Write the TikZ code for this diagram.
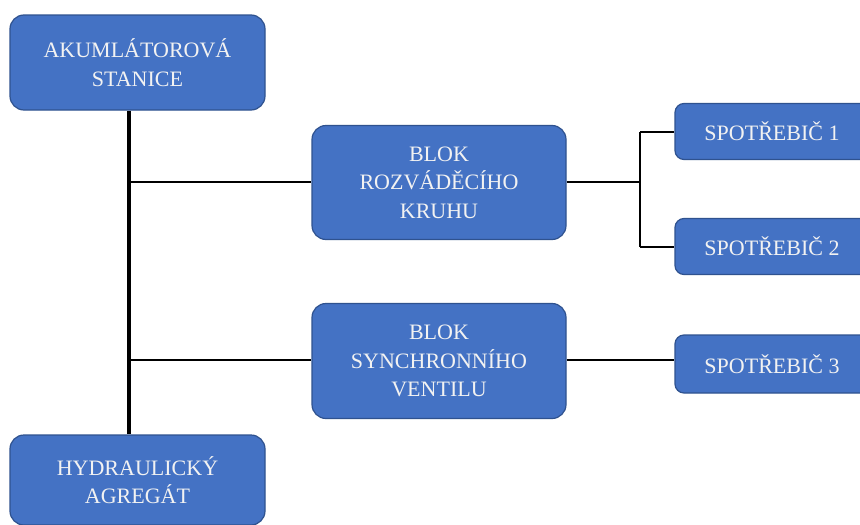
\documentclass[tikz,border=0pt]{standalone}
\usepackage{fontspec}
\setmainfont{Liberation Serif}
\definecolor{boxfill}{HTML}{4472C4}
\definecolor{boxedge}{HTML}{2F528F}
\definecolor{boxtext}{HTML}{F2F2F2}
\begin{document}
\begin{tikzpicture}[x=1pt,y=-1pt,
  blk/.style={draw=boxedge, line width=1.2pt, fill=boxfill, rounded corners=14pt,
    text=boxtext, align=center, font=\fontsize{22}{28.5}\selectfont, inner sep=0pt},
  spo/.style={blk, rounded corners=9pt},
  trunk/.style={line width=3.5pt, black},
  wire/.style={line width=2pt, black}]
\useasboundingbox (0,0) rectangle (860,525);
\clip (0,0) rectangle (860,525);
\fill[white] (0,0) rectangle (860,525);
% nodes
\node[blk, minimum width=255pt, minimum height=95pt] (aku) at (137.5,62.5) {AKUMLÁTOROVÁ\\STANICE};
\node[blk, minimum width=255pt, minimum height=90pt] (hyd) at (137.5,480) {HYDRAULICKÝ\\AGREGÁT};
\node[blk, minimum width=254pt, minimum height=114pt] (roz) at (439,182.5) {BLOK\\ROZVÁDĚCÍHO\\KRUHU};
\node[blk, minimum width=254pt, minimum height=115pt] (syn) at (439,361) {BLOK\\SYNCHRONNÍHO\\VENTILU};
\node[spo, minimum width=194pt, minimum height=56pt] (s1) at (772,131.5) {SPOTŘEBIČ 1};
\node[spo, minimum width=194pt, minimum height=56pt] (s2) at (772,246.5) {SPOTŘEBIČ 2};
\node[spo, minimum width=194pt, minimum height=58pt] (s3) at (772,364) {SPOTŘEBIČ 3};
% connector points
\coordinate (tTop) at (129,110);
\coordinate (tBot) at (129,435);
\coordinate (j1) at (129,182);
\coordinate (j2) at (129,360);
\coordinate (br) at (640,182);
% connectors
\draw[trunk] (aku.south -| tTop) -- (hyd.north -| tBot);
\draw[wire] (j1) -- (roz.west |- j1);
\draw[wire] (j2) -- (syn.west |- j2);
\draw[wire] (roz.east |- br) -- (br);
\draw[wire] (br |- s1.west) -- (s1.west);
\draw[wire] (br |- s2.west) -- (s2.west);
\draw[wire] (br |- s1.west) -- (br |- s2.west);
\draw[wire] (syn.east |- j2) -- (s3.west |- j2);
\end{tikzpicture}
\end{document}
